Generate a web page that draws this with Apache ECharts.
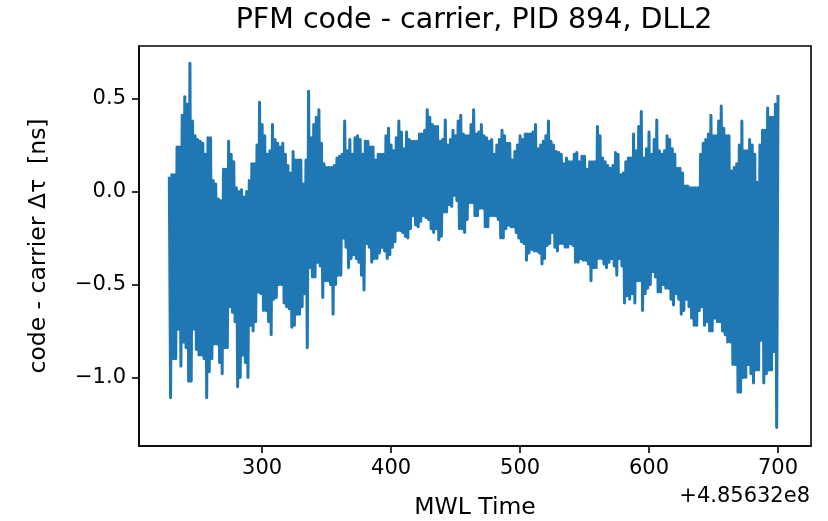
<!DOCTYPE html>
<html>
<head>
<meta charset="utf-8">
<script src="https://cdn.jsdelivr.net/npm/echarts@6/dist/echarts.min.js"></script>
<style>html,body{margin:0;padding:0;background:#fff}#c{width:828px;height:521px}</style>
</head>
<body>
<div id="c"></div>
<script>
// MWL time offset (seconds) relative to +4.85632e8, sampled every 1 s
const segAStart = 228;
const segA = [0.08,-1.11,0.09,-0.90,0.09,-0.90,0.24,-0.74,0.24,-0.94,
  0.41,-0.81,0.51,-0.84,0.47,-1.02,0.69,-1.02,0.38,-0.74,
  0.30,-0.85,0.28,-0.88,0.27,-0.88,0.26,-0.90,0.20,-1.11,
  0.29,-0.97,0.29,-0.90,0.06,-0.82,0.04,-0.82,-0.04,-0.92,
  -0.05,-0.98,0.12,-0.84,0.12,-0.84,0.27,-0.62,0.20,-0.65,
  0.16,-0.70,0.02,-1.05,0.00,-1.00,0.01,-0.88,-0.03,-0.92,
  0.00,-1.00,0.06,-0.72,0.15,-0.75,0.15,-0.70,0.25,-0.54,
  0.48,-0.55,0.36,-0.64,0.30,-0.64,0.20,-0.70,0.22,-0.77,
  0.36,-0.58];
const segBStart = 310;
const segB = [0.28,-0.57,0.26,-0.50,0.24,-0.50,0.26,-0.60,0.20,-0.62,
  0.14,-0.63,0.10,-0.73,0.215,-0.72,0.17,-0.66,0.17,-0.66,
  0.17,-0.62,0.04,-0.55,0.17,-0.84,0.54,-0.41,0.29,-0.46,
  0.36,-0.46,0.40,-0.38,0.44,-0.40,0.26,-0.57,0.15,-0.48,
  0.13,-0.48,0.13,-0.50,0.13,-0.66,0.14,-0.50,0.18,-0.45,
  0.19,-0.45,0.20,-0.25,0.38,-0.30,0.22,-0.41,0.28,-0.36,
  0.20,-0.34,0.29,-0.36,0.30,-0.38,0.28,-0.45,0.20,-0.53,
  0.27,-0.28,0.27,-0.30,0.24,-0.38,0.24,-0.36,0.17,-0.36,
  0.20,-0.33,0.20,-0.30,0.20,-0.32];
const segCStart = 396;
const segC = [0.30,-0.36,0.34,-0.34,0.25,-0.30,0.22,-0.27,0.29,-0.21,
  0.38,-0.21,0.32,-0.22,0.23,-0.24,0.32,-0.25,0.28,-0.20,
  0.27,-0.13,0.27,-0.18,0.27,-0.19,0.31,-0.16,0.31,-0.13,
  0.33,-0.14,0.44,-0.15,0.40,-0.20,0.36,-0.22,0.35,-0.20,
  0.35,-0.26,0.27,-0.24,0.28,-0.11,0.385,-0.11,0.25,-0.07,
  0.28,-0.08,0.33,-0.02,0.30,-0.05,0.38,-0.20,0.41,-0.20,
  0.31,-0.22,0.30,-0.15,0.30,-0.06,0.36,-0.06,0.44,-0.13,
  0.31,-0.13,0.32,-0.09,0.36,-0.09,0.30,-0.19,0.29,-0.19,
  0.27,-0.13,0.28,-0.13,0.20];
const segDStart = 481;
const segD = [-0.13,0.25,-0.15,0.28,-0.25,0.33,-0.25,0.30,-0.20,0.26,
  -0.18,0.26,-0.19,0.17,-0.19,0.215,-0.22,0.25,-0.25,0.30,
  -0.27,0.28,-0.28,0.31,-0.37,0.31,-0.33,0.31,-0.31,0.32,
  -0.32,0.36,-0.32,0.23,-0.33,0.25,-0.39,0.27,-0.36,0.30,
  -0.29,0.38,-0.28,0.27,-0.22,0.25,-0.30,0.215,-0.32,0.21,
  -0.28,0.20,-0.28,0.15,-0.30,0.18,-0.30,0.16,-0.28,0.16,
  -0.29,0.20,-0.38,0.21,-0.38,0.16,-0.36,0.19,-0.37,0.19,
  -0.37,0.12,-0.39,0.16,-0.48,0.16,-0.41,0.16,-0.41,0.35,
  -0.36,0.30,-0.36,0.18,-0.39];
const segEStart = 566;
const segE = [0.16,-0.41,0.14,-0.38,0.125,-0.36,0.14,-0.40,0.21,-0.45,
  0.20,-0.36,0.09,-0.40,0.10,-0.60,0.16,-0.56,0.18,-0.58,
  0.18,-0.55,0.31,-0.60,0.22,-0.48,0.35,-0.48,0.43,-0.64,
  0.18,-0.55,0.23,-0.52,0.32,-0.50,0.20,-0.43,0.28,-0.46,
  0.385,-0.54,0.22,-0.54,0.20,-0.50,0.22,-0.52,0.30,-0.52,
  0.28,-0.58,0.23,-0.61,0.20,-0.55,0.125,-0.58,0.125,-0.66,
  0.10,-0.64,0.03,-0.58,0.03,-0.62,0.02,-0.68,0.02,-0.72,
  0.02,-0.72,0.02,-0.64,0.20,-0.62,0.26,-0.72,0.28,-0.70,
  0.31,-0.75,0.41,-0.75,0.30];
const segFStart = 651;
const segF = [-0.68,0.30,-0.70,0.38,-0.70,0.46,-0.75,0.34,-0.77,0.30,
  -0.81,0.30,-0.81,0.11,-0.93,0.13,-0.93,0.15,-1.08,0.25,
  -1.08,0.38,-1.00,0.22,-1.00,0.22,-0.93,0.28,-0.98,0.25,
  -1.03,0.20,-0.96,0.05,-0.96,0.25,-0.80,0.33,-1.03,0.33,
  -0.98,0.45,-0.96,0.40,-0.96,0.40,-0.86,0.47,-1.27,0.52];

const xTicks = [300, 400, 500, 600, 700];
const yTicks = [-1.0, -0.5, 0.0, 0.5];
const titleText = 'PFM code - carrier, PID 894, DLL2';
const xName = 'MWL Time';
const yName = 'code - carrier \u0394\u03c4  [ns]';
const offsetText = '+4.85632e8';

const segments = [[segAStart, segA], [segBStart, segB], [segCStart, segC],
                  [segDStart, segD], [segEStart, segE], [segFStart, segF]];
const seriesData = [];
segments.forEach(([t0, vals]) => vals.forEach((v, i) => seriesData.push([t0 + i, v])));

const FONT = 'DejaVu Sans';
const chart = echarts.init(document.getElementById('c'), null, {renderer: 'canvas'});
chart.setOption({
  animation: false,
  backgroundColor: '#ffffff',
  grid: {left: 139, right: 17, top: 46, bottom: 75, show: true,
         containLabel: false, outerBoundsMode: 'none',
         borderColor: '#000', borderWidth: 1.6, backgroundColor: 'transparent'},
  xAxis: {
    type: 'value', min: 204.5, max: 725.6,
    axisLine: {show: true, onZero: false, lineStyle: {color: '#000', width: 1.6}},
    axisTick: {show: true, length: 7, customValues: xTicks, lineStyle: {color: '#000', width: 1.6}},
    axisLabel: {customValues: xTicks, color: '#000', fontFamily: FONT, fontSize: 21, margin: 12},
    splitLine: {show: false},
    name: xName, nameLocation: 'middle', nameGap: 50,
    nameTextStyle: {color: '#000', fontFamily: FONT, fontSize: 23.5}
  },
  yAxis: {
    type: 'value', min: -1.369, max: 0.783,
    axisLine: {show: true, onZero: false, lineStyle: {color: '#000', width: 1.6}},
    axisTick: {show: true, length: 7, customValues: yTicks, lineStyle: {color: '#000', width: 1.6}},
    axisLabel: {customValues: yTicks, color: '#000', fontFamily: FONT, fontSize: 21, margin: 13,
      formatter: v => (v < 0 ? '\u2212' : '') + Math.abs(v).toFixed(1)},
    splitLine: {show: false},
    name: yName, nameLocation: 'middle', nameGap: 88,
    nameTextStyle: {color: '#000', fontFamily: FONT, fontSize: 23.5}
  },
  series: [{
    type: 'line', data: seriesData, showSymbol: false, symbol: 'none',
    sampling: null, clip: true,
    lineStyle: {color: '#1f77b4', width: 3, join: 'round'}
  }],
  graphic: [
    {type: 'text', x: 474, y: 21, style: {text: titleText, font: '28.5px "DejaVu Sans"',
      fill: '#000', textAlign: 'center', textVerticalAlign: 'middle'}},
    {type: 'text', x: 810, y: 497, style: {text: offsetText, font: '21px "DejaVu Sans"',
      fill: '#000', textAlign: 'right', textVerticalAlign: 'middle'}}
  ]
});
</script>
</body>
</html>
